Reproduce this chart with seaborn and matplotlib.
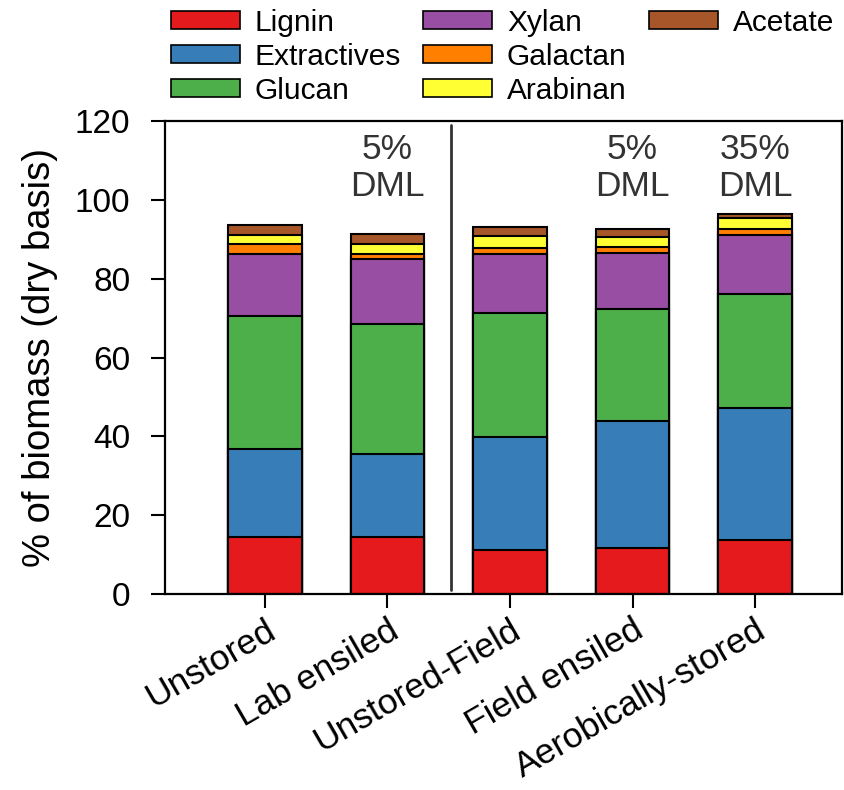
import numpy as np
import pandas as pd
import matplotlib
matplotlib.use("Agg")
import matplotlib.pyplot as plt
from matplotlib.patches import Patch
import seaborn as sns

# Biomass composition (% dry basis) for each storage treatment
treatments = ["Unstored", "Lab ensiled", "Unstored-Field", "Field ensiled", "Aerobically-stored"]
components = ["Lignin", "Extractives", "Glucan", "Xylan", "Galactan", "Arabinan", "Acetate"]

lignin = [14.5, 14.5, 11.2, 11.7, 13.8]
extractives = [22.2, 20.9, 28.6, 32.2, 33.5]
glucan = [33.8, 33.2, 31.6, 28.4, 28.8]
xylan = [15.8, 16.3, 14.8, 14.3, 15.0]
galactan = [2.6, 1.3, 1.5, 1.4, 1.6]
arabinan = [2.3, 2.5, 3.0, 2.6, 2.6]
acetate = [2.5, 2.6, 2.3, 1.9, 1.0]

dml_labels = ["", "5%\nDML", "", "5%\nDML", "35%\nDML"]

colors = ["#E41A1C", "#377EB8", "#4DAF4A", "#984EA3", "#FF7F00", "#FFFF33", "#A65628"]

sns.set_style("white")
plt.rcParams["font.family"] = ["Liberation Sans", "DejaVu Sans"]
plt.rcParams.update({"text.color": "black", "axes.labelcolor": "black",
                     "xtick.color": "black", "ytick.color": "black"})

series = [lignin, extractives, glucan, xylan, galactan, arabinan, acetate]
df = pd.DataFrame({"Treatment": treatments})
for name, vals in zip(components, series):
    df[name] = vals
# cumulative tops of each stacked segment
cum = df[components].cumsum(axis=1)

fig = plt.figure(figsize=(8.45, 7.9), dpi=100)
ax = fig.add_axes([165 / 845, 1 - 594 / 790, (842 - 165) / 845, (594 - 121) / 790])

# draw from the full stack downwards so each lower segment overlays the one above
for name, col in reversed(list(zip(components, colors))):
    sns.barplot(data=pd.DataFrame({"Treatment": treatments, "top": cum[name]}),
                x="Treatment", y="top", order=treatments, color=col,
                saturation=1, width=0.6, edgecolor="black", linewidth=1.5,
                errorbar=None, ax=ax, zorder=2)

ax.set_xlim(-0.816, 4.71)
ax.set_ylim(0, 120)
ax.set_yticks(np.arange(0, 121, 20))
ax.set_ylabel("% of biomass (dry basis)", fontsize=27.5, labelpad=12)
ax.set_xlabel("")
ax.set_xticks(range(len(treatments)))
ax.set_xticklabels(treatments, rotation=30, ha="right", va="top",
                   rotation_mode="anchor", fontsize=25.5)
ax.tick_params(axis="y", labelsize=24, direction="out", length=10, width=1.5, left=True, pad=15)
ax.tick_params(axis="x", direction="out", length=10, width=1.5, bottom=True, pad=4)
for s in ax.spines.values():
    s.set_linewidth(1.6)
    s.set_color("black")

# separator between lab and field samples
ax.plot([1.52, 1.52], [1, 119], color="#333333", lw=2, zorder=3)

for i, lab in enumerate(dml_labels):
    if lab:
        ax.text(i, 108, lab, ha="center", va="center", fontsize=25.5,
                color="#333333", linespacing=1.15)

# legend laid out column by column: 3 + 3 + 1
blank = Patch(facecolor="none", edgecolor="none")
handles = [Patch(facecolor=c, edgecolor="black", linewidth=1.2) for c in colors]
leg_handles = handles + [blank, blank]
leg_labels = components + ["", ""]
fig.legend(leg_handles, leg_labels, ncol=3, loc="upper left",
           bbox_to_anchor=(156 / 845, 1.008), frameon=False, fontsize=21.5,
           handlelength=2.3, handleheight=0.55, handletextpad=0.5,
           columnspacing=0.75, labelspacing=0.2, borderaxespad=0.1)

fig.savefig("out.png", dpi=100)
